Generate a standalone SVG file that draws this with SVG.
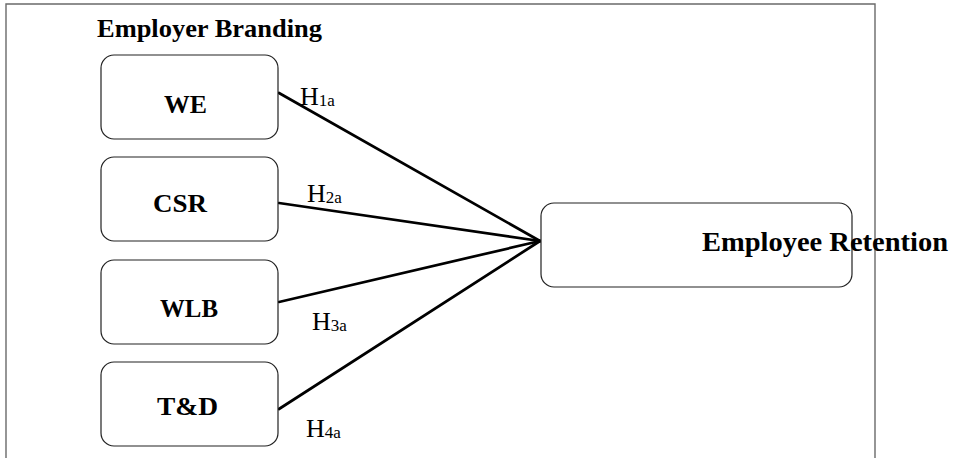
<svg xmlns="http://www.w3.org/2000/svg" width="953" height="458" viewBox="0 0 953 458">
<style>
.frame{fill:none;stroke:#6a6a6a;stroke-width:1.4}
.box{fill:#fff;stroke:#222;stroke-width:1.2}
.lbl{font-family:"Liberation Serif","Times New Roman",serif;font-weight:bold;font-size:26px;fill:#000}
.h{font-family:"Liberation Serif","Times New Roman",serif;font-size:26px;fill:#000}
.sub{font-size:17px}
.conn{stroke:#000;stroke-width:2.7;fill:none;stroke-linecap:round}
</style>
<rect width="953" height="458" fill="#fff"/>
<path class="frame" d="M6,470 V4 H875 V470"/>
<text class="lbl" x="97" y="37" textLength="225" lengthAdjust="spacingAndGlyphs">Employer Branding</text>
<g id="connectors">
<line class="conn" x1="279" y1="93" x2="540" y2="241"/>
<line class="conn" x1="279" y1="203" x2="540" y2="241"/>
<line class="conn" x1="279" y1="302" x2="540" y2="241"/>
<line class="conn" x1="279" y1="409" x2="540" y2="241"/>
<text class="h" x="300" y="105">H<tspan class="sub" dy="1">1a</tspan></text>
<text class="h" x="307" y="202">H<tspan class="sub" dy="1">2a</tspan></text>
<text class="h" x="312" y="330">H<tspan class="sub" dy="1">3a</tspan></text>
<text class="h" x="306" y="437">H<tspan class="sub" dy="1">4a</tspan></text>
</g>
<g id="we">
<rect class="box" x="101" y="55" width="177" height="84" rx="13"/>
<text class="lbl" x="164" y="113" textLength="43" lengthAdjust="spacingAndGlyphs">WE</text>
</g>
<g id="csr">
<rect class="box" x="101" y="157" width="177" height="84" rx="13"/>
<text class="lbl" x="153" y="212" textLength="54" lengthAdjust="spacingAndGlyphs">CSR</text>
</g>
<g id="wlb">
<rect class="box" x="101" y="260" width="177" height="84" rx="13"/>
<text class="lbl" x="160" y="317" textLength="58" lengthAdjust="spacingAndGlyphs">WLB</text>
</g>
<g id="td">
<rect class="box" x="101" y="362" width="177" height="84" rx="13"/>
<text class="lbl" x="157" y="415" textLength="61" lengthAdjust="spacingAndGlyphs">T&amp;D</text>
</g>
<g id="retention">
<rect class="box" x="541" y="203" width="311" height="84" rx="13"/>
<text class="lbl" x="702" y="251" style="font-size:28px" textLength="246" lengthAdjust="spacingAndGlyphs">Employee Retention</text>
</g>
</svg>
